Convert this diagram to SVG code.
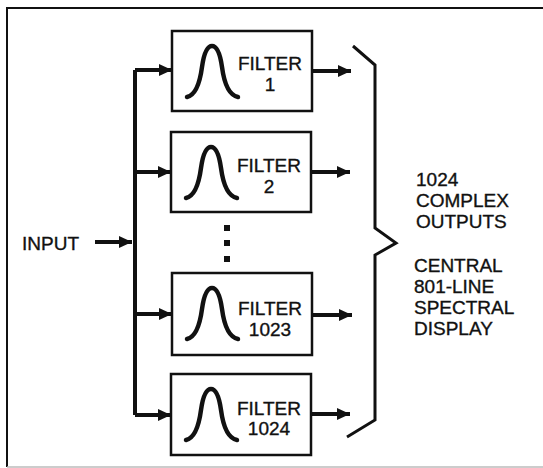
<svg xmlns="http://www.w3.org/2000/svg" width="543" height="468" viewBox="0 0 543 468">
<defs>
<style>
.frame{fill:none;stroke:#111;stroke-width:2}
.box{fill:#fff;stroke:#111;stroke-width:2.5}
.curve{fill:none;stroke:#111;stroke-width:4.5;stroke-linecap:round}
.lbl{font-family:"Liberation Sans",Arial,sans-serif;font-size:19px;fill:#111;stroke:#111;stroke-width:0.35}
.wire{fill:none;stroke:#111;stroke-width:4}
.brace{fill:none;stroke:#111;stroke-width:3;stroke-linejoin:miter}
</style>
<marker id="ah" markerUnits="userSpaceOnUse" markerWidth="13" markerHeight="12" refX="13" refY="6" orient="auto">
<path d="M0,0 L13,6 L0,12 z" fill="#111"/>
</marker>
<path id="gauss" d="M15,66 C24,64 28,51 30,36 C32,22 35,15 40,15 C45,15 48,22 50,36 C52,51 56,64 66,66"/>
</defs>
<rect width="543" height="468" fill="#fff"/>
<g id="frame">
<path class="frame" d="M7,467 L7,8 L543,8"/>
<path d="M7,467 L543,467" stroke="#bbb" stroke-width="1.5" fill="none"/>
</g>
<g id="connectors">
<path class="wire" d="M135,70 L135,415"/>
<line class="wire" x1="95" y1="242" x2="132" y2="242" stroke-width="5" marker-end="url(#ah)"/>
<line class="wire" x1="135" y1="70" x2="172" y2="70" marker-end="url(#ah)"/>
<line class="wire" x1="135" y1="172" x2="171" y2="172" marker-end="url(#ah)"/>
<line class="wire" x1="135" y1="314" x2="172" y2="314" marker-end="url(#ah)"/>
<line class="wire" x1="135" y1="415" x2="171" y2="415" marker-end="url(#ah)"/>
<line class="wire" x1="312" y1="71" x2="351" y2="71" marker-end="url(#ah)"/>
<line class="wire" x1="311" y1="172" x2="350" y2="172" marker-end="url(#ah)"/>
<line class="wire" x1="312" y1="315" x2="352" y2="315" marker-end="url(#ah)"/>
<line class="wire" x1="311" y1="414" x2="350" y2="414" marker-end="url(#ah)"/>
</g>
<g id="input">
<text class="lbl" x="22" y="250">INPUT</text>
</g>
<g id="filter1" transform="translate(172,31)">
<rect class="box" x="0" y="0" width="140" height="80"/>
<use href="#gauss" class="curve"/>
<text class="lbl" x="98" y="39" text-anchor="middle">FILTER</text>
<text class="lbl" x="98" y="60" text-anchor="middle">1</text>
</g>
<g id="filter2" transform="translate(171,132)">
<rect class="box" x="0" y="0" width="140" height="80"/>
<use href="#gauss" class="curve"/>
<text class="lbl" x="98" y="40" text-anchor="middle">FILTER</text>
<text class="lbl" x="98" y="61" text-anchor="middle">2</text>
</g>
<g id="dots" fill="#111">
<rect x="224" y="225" width="6" height="6"/>
<rect x="224" y="240" width="6" height="6"/>
<rect x="224" y="256" width="6" height="6"/>
</g>
<g id="filter1023" transform="translate(172,273)">
<rect class="box" x="0" y="0" width="140" height="82"/>
<use href="#gauss" class="curve"/>
<text class="lbl" x="98" y="42" text-anchor="middle">FILTER</text>
<text class="lbl" x="98" y="63" text-anchor="middle">1023</text>
</g>
<g id="filter1024" transform="translate(171,374)">
<rect class="box" x="0" y="0" width="140" height="81"/>
<use href="#gauss" class="curve"/>
<text class="lbl" x="98" y="41" text-anchor="middle">FILTER</text>
<text class="lbl" x="98" y="61" text-anchor="middle">1024</text>
</g>
<g id="brace">
<path class="brace" d="M353,46 L375,65 L375,228 L396,243 L375,255 L375,420 L347,437"/>
</g>
<g id="outputs">
<text class="lbl" x="416" y="186">1024</text>
<text class="lbl" x="416" y="207">COMPLEX</text>
<text class="lbl" x="416" y="228">OUTPUTS</text>
<text class="lbl" x="414" y="272">CENTRAL</text>
<text class="lbl" x="414" y="293">801-LINE</text>
<text class="lbl" x="414" y="314">SPECTRAL</text>
<text class="lbl" x="414" y="335">DISPLAY</text>
</g>
</svg>
